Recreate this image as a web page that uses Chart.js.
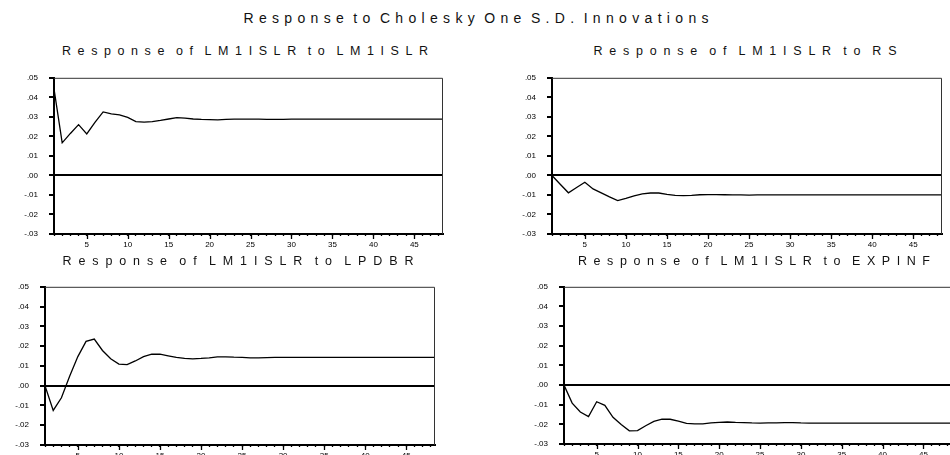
<!DOCTYPE html>
<html><head><meta charset="utf-8">
<script src="https://cdn.jsdelivr.net/npm/chart.js@4/dist/chart.umd.min.js"></script>
<style>
html,body{margin:0;padding:0;width:950px;height:455px;overflow:hidden;background:#fff;position:relative;}
.t{position:absolute;white-space:nowrap;font-family:"Liberation Sans",Arial,sans-serif;color:#111;line-height:1;}
canvas{position:absolute;}
</style></head><body>
<div id="mainTitle" class="t"></div>
<script>
// ---------------- DATA ----------------
const mainTitle = "Response to Cholesky One S.D. Innovations";
const panelTitles = [
  "Response of LM1ISLR to LM1ISLR",
  "Response of LM1ISLR to RS",
  "Response of LM1ISLR to LPDBR",
  "Response of LM1ISLR to EXPINF"
];
const periods = [1,2,3,4,5,6,7,8,9,10,11,12,13,14,15,16,17,18,19,20,21,22,23,24,25,26,27,28,29,30,31,32,33,34,35,36,37,38,39,40,41,42,43,44,45,46,47,48,49];
const toLM1ISLR = [0.0443,0.0167,0.0215,0.0260,0.0213,0.0272,0.0325,0.0315,0.0310,0.0297,0.0276,0.0273,0.0276,0.0282,0.0289,0.0296,0.0293,0.0289,0.0287,0.0286,0.0285,0.0287,0.0288,0.0288,0.0288,0.0288,0.0287,0.0287,0.0287,0.0288,0.0288,0.0288,0.0288,0.0288,0.0288,0.0288,0.0288,0.0288,0.0288,0.0288,0.0288,0.0288,0.0288,0.0288,0.0288,0.0288,0.0288,0.0288,0.0288];
const toRS = [0.0000,-0.0045,-0.0089,-0.0062,-0.0035,-0.0069,-0.0089,-0.0110,-0.0129,-0.0118,-0.0105,-0.0095,-0.0090,-0.0090,-0.0097,-0.0102,-0.0103,-0.0102,-0.0099,-0.0098,-0.0098,-0.0099,-0.0100,-0.0100,-0.0101,-0.0100,-0.0100,-0.0100,-0.0100,-0.0100,-0.0100,-0.0100,-0.0100,-0.0100,-0.0100,-0.0100,-0.0100,-0.0100,-0.0100,-0.0100,-0.0100,-0.0100,-0.0100,-0.0100,-0.0100,-0.0100,-0.0100,-0.0100,-0.0100];
const toLPDBR = [0.0000,-0.0125,-0.0061,0.0048,0.0147,0.0224,0.0236,0.0178,0.0136,0.0109,0.0106,0.0125,0.0147,0.0159,0.0159,0.0151,0.0143,0.0138,0.0136,0.0138,0.0141,0.0146,0.0146,0.0144,0.0143,0.0141,0.0141,0.0142,0.0143,0.0143,0.0143,0.0143,0.0143,0.0143,0.0143,0.0143,0.0143,0.0143,0.0143,0.0143,0.0143,0.0143,0.0143,0.0143,0.0143,0.0143,0.0143,0.0143,0.0143];
const toEXPINF = [0.0000,-0.0092,-0.0137,-0.0161,-0.0085,-0.0103,-0.0164,-0.0201,-0.0233,-0.0232,-0.0207,-0.0185,-0.0174,-0.0174,-0.0183,-0.0195,-0.0198,-0.0198,-0.0193,-0.0190,-0.0188,-0.0190,-0.0191,-0.0193,-0.0194,-0.0193,-0.0192,-0.0191,-0.0191,-0.0193,-0.0194,-0.0194,-0.0194,-0.0194,-0.0194,-0.0194,-0.0194,-0.0194,-0.0194,-0.0194,-0.0194,-0.0194,-0.0194,-0.0194,-0.0194,-0.0194,-0.0194,-0.0194,-0.0194];
const yTickValues = [-0.03,-0.02,-0.01,0.00,0.01,0.02,0.03,0.04,0.05];
const yTickLabels = ["-.03","-.02","-.01",".00",".01",".02",".03",".04",".05"];
const xTickValues = [5,10,15,20,25,30,35,40,45];
const xTickLabels = ["5","10","15","20","25","30","35","40","45"];

// ---------------- LAYOUT ----------------
const FONT = '"Liberation Sans", Arial, sans-serif';
const panels = [
  {series: toLM1ISLR, plot:{l:54,t:70,r:443,b:234},  title:{cx:245,cy:51,w:366}},
  {series: toRS,      plot:{l:552,t:70,r:942,b:234}, title:{cx:745,cy:51,w:303}},
  {series: toLPDBR,   plot:{l:45,t:279,r:435,b:445}, title:{cx:238,cy:261,w:351}},
  {series: toEXPINF,  plot:{l:564,t:279,r:952,b:444},title:{cx:754,cy:261,w:352}}
];
const YW = 50, PT = 8, PR = 8, XH = 30;

const mctx = document.createElement('canvas').getContext('2d');
function placeTitle(el, text, cx, cy, w, fs, ws){
  el.textContent = text;
  el.style.fontSize = fs + 'px';
  el.style.wordSpacing = ws + 'px';
  mctx.font = fs + 'px ' + FONT;
  const nSpaces = text.split(' ').length - 1;
  const nat = mctx.measureText(text).width + ws * nSpaces;
  const sp = (w - nat) / (text.length - 1);
  el.style.letterSpacing = sp + 'px';
  el.style.left = (cx - w/2) + 'px';
  el.style.top = (cy - 0.49*fs) + 'px';
}
placeTitle(document.getElementById('mainTitle'), mainTitle, 476, 18, 465, 14, -5);

const framePlugin = {
  id:'frame',
  afterDraw(chart){
    const {ctx, chartArea:a, scales} = chart;
    const x = scales.x;
    ctx.save();
    ctx.strokeStyle = '#333';
    ctx.lineWidth = 1;
    ctx.beginPath();
    ctx.moveTo(a.left, a.top + 0.5);
    ctx.lineTo(a.right - 0.5, a.top + 0.5);
    ctx.lineTo(a.right - 0.5, a.bottom);
    ctx.stroke();
    ctx.strokeStyle = '#000';
    ctx.lineWidth = 1.3;
    x.ticks.forEach(t => {
      if (xTickValues.includes(t.value)) {
        const px = Math.round(x.getPixelForValue(t.value)) + 0.5;
        ctx.beginPath();
        ctx.moveTo(px, a.bottom);
        ctx.lineTo(px, a.bottom + 5);
        ctx.stroke();
      }
    });
    ctx.restore();
  }
};

panels.forEach((p, i) => {
  const t = document.createElement('div');
  t.className = 't';
  document.body.appendChild(t);
  placeTitle(t, panelTitles[i], p.title.cx, p.title.cy, p.title.w, 12.5, -5);

  const cv = document.createElement('canvas');
  const w = YW + (p.plot.r - p.plot.l) + PR;
  const h = PT + (p.plot.b - p.plot.t) + XH;
  cv.width = w; cv.height = h;
  cv.style.width = w + 'px'; cv.style.height = h + 'px';
  cv.style.left = (p.plot.l - YW) + 'px';
  cv.style.top = (p.plot.t - PT) + 'px';
  document.body.appendChild(cv);

  new Chart(cv, {
    type: 'line',
    data: {
      labels: periods,
      datasets: [{
        data: periods.map((x, k) => ({x: x, y: p.series[k]})),
        borderColor: '#000',
        borderWidth: 1.3,
        pointRadius: 0,
        tension: 0,
        fill: false
      }]
    },
    options: {
      responsive: false,
      animation: false,
      devicePixelRatio: 1,
      layout: {padding: {left: 0, top: PT, right: PR, bottom: 0}},
      plugins: {legend: {display: false}, tooltip: {enabled: false}, title: {display: false}},
      scales: {
        x: {
          type: 'linear',
          min: 1, max: 48.5,
          afterFit: s => { s.height = XH; },
          border: {display: true, color: '#000', width: 2},
          grid: {drawOnChartArea: false, drawTicks: true, tickLength: 2, tickColor: '#000', tickWidth: 1.3},
          ticks: {
            stepSize: 1, autoSkip: false, includeBounds: false, maxRotation: 0, padding: 4,
            color: '#000', font: {family: FONT, size: 8},
            callback: v => { const k = xTickValues.indexOf(v); return k >= 0 ? xTickLabels[k] : ''; }
          }
        },
        y: {
          type: 'linear',
          min: -0.03, max: 0.05,
          afterFit: s => { s.width = YW; },
          border: {display: true, color: '#000', width: 2},
          grid: {
            drawOnChartArea: true,
            color: '#000',
            lineWidth: c => (c.tick && Math.abs(c.tick.value) < 1e-9) ? 2 : 0,
            tickLength: 5, tickColor: '#000', tickWidth: 2
          },
          ticks: {
            stepSize: 0.01, autoSkip: false, padding: 11,
            color: '#000', font: {family: FONT, size: 8},
            callback: v => { const k = Math.round(v * 100) + 3; return yTickLabels[k] !== undefined ? yTickLabels[k] : ''; }
          }
        }
      }
    },
    plugins: [framePlugin]
  });
});
</script>
</body></html>
